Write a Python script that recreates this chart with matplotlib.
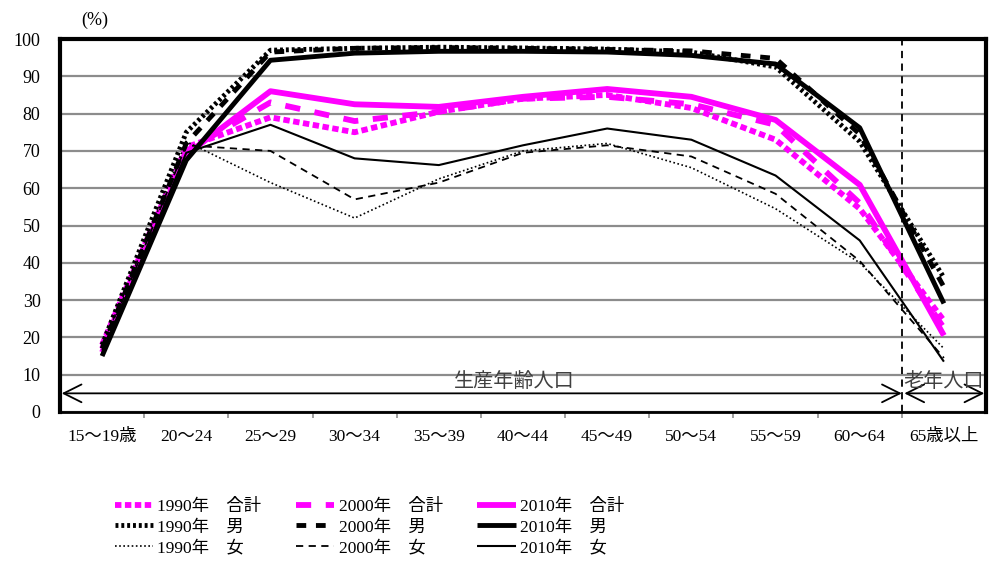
import matplotlib
matplotlib.use("Agg")
import matplotlib.pyplot as plt
from matplotlib.ticker import FixedLocator

plt.rcParams['font.family'] = ['Liberation Serif', 'Noto Sans CJK JP', 'DejaVu Sans']

categories = ["15〜19歳", "20〜24", "25〜29", "30〜34", "35〜39", "40〜44",
              "45〜49", "50〜54", "55〜59", "60〜64", "65歳以上"]

total_1990 = [18, 71, 79, 75, 80.5, 84, 85, 81.5, 73, 54.5, 24.5]
total_2000 = [17, 70, 83, 78, 80.5, 84, 84.5, 82.5, 77, 56, 22.5]
total_2010 = [16, 69, 86, 82.5, 81.8, 84.5, 86.6, 84.5, 78.3, 60.9, 20.5]
male_1990 = [18, 75, 97, 97.5, 97.8, 97.6, 97.3, 96.5, 92.5, 72.5, 36]
male_2000 = [17, 72, 96.5, 97.5, 97.7, 97.5, 97.2, 96.8, 94.8, 74.5, 33.5]
male_2010 = [15, 67.5, 94.3, 96.2, 96.7, 96.7, 96.5, 95.6, 93.3, 76.2, 29.1]
female_1990 = [17.5, 72.5, 61.5, 52, 62.5, 70, 72, 65.5, 54.5, 40, 17]
female_2000 = [16.5, 71.5, 70, 57, 61.5, 69.5, 71.5, 68.5, 58.5, 40.5, 14.5]
female_2010 = [15.5, 69.5, 77, 68, 66.2, 71.5, 76, 73, 63.4, 46, 13.5]

labels = ["1990年　合計", "2000年　合計", "2010年　合計",
          "1990年　男", "2000年　男", "2010年　男",
          "1990年　女", "2000年　女", "2010年　女"]

fig = plt.figure(figsize=(9.89, 5.65), dpi=100)
ax = fig.add_axes([60/989, 1-412/565, 926/989, 373/565])

x = list(range(len(categories)))
MAG = "#FF00FF"

series = [
    (total_1990, dict(color=MAG, lw=4.2, ls=(0, (1.1, 0.6)))),
    (total_2000, dict(color=MAG, lw=4.2, ls=(0, (2.6, 2.5)))),
    (total_2010, dict(color=MAG, lw=4.2, ls='-')),
    (male_1990, dict(color='black', lw=3.5, ls=(0, (0.6, 0.6)))),
    (male_2000, dict(color='black', lw=3.5, ls=(0, (2.0, 2.0)))),
    (male_2010, dict(color='black', lw=3.5, ls='-')),
    (female_1990, dict(color='black', lw=1.2, ls=(0, (1, 1.5)))),
    (female_2000, dict(color='black', lw=1.3, ls=(0, (4, 3)))),
    (female_2010, dict(color='black', lw=1.5, ls='-')),
]
handles = []
for (vals, st), lab in zip(series, labels):
    h, = ax.plot(x, vals, solid_capstyle='butt', dash_capstyle='butt',
                 label=lab, **st)
    handles.append(h)

ax.set_xlim(-0.5, 10.5)
ax.set_ylim(0, 100)
ax.set_yticks(range(0, 101, 10))
ax.yaxis.grid(True, color='#8c8c8c', lw=1.6)
ax.set_axisbelow(True)
ax.tick_params(axis='y', length=0, labelsize=13, pad=14)
ax.set_xticks(x)
ax.set_xticklabels(categories, fontsize=12.5)
ax.tick_params(axis='x', which='major', length=0, pad=12)
ax.xaxis.set_minor_locator(FixedLocator([i + 0.5 for i in range(10)]))
ax.tick_params(axis='x', which='minor', length=4, color='#8c8c8c', width=1.2)

for s in ['top', 'right', 'left']:
    ax.spines[s].set_linewidth(3)
ax.spines['bottom'].set_linewidth(2)

ax.axvline(9.5, color='black', lw=1.3, ls=(0, (4, 3)))

ax.annotate("", xy=(-0.48, 5), xytext=(9.5, 5),
            arrowprops=dict(arrowstyle='<->', lw=1.3, color='black', mutation_scale=32,
                            shrinkA=0, shrinkB=0))
ax.annotate("", xy=(9.53, 5), xytext=(10.48, 5),
            arrowprops=dict(arrowstyle='<->', lw=1.3, color='black', mutation_scale=32,
                            shrinkA=0, shrinkB=0))
ax.text(4.9, 7.8, "生産年齢人口", ha='center', va='center', fontsize=14.5, color='#404040')
ax.text(10.0, 8.0, "老年人口", ha='center', va='center', fontsize=14.5, color='#404040')

fig.text(95/989, 1-20/565, "(%)", ha='center', va='center', fontsize=13)

order = [0, 3, 6, 1, 4, 7, 2, 5, 8]
fig.legend([handles[i] for i in order], [labels[i] for i in order],
           ncol=3, loc='upper left', bbox_to_anchor=(106/989, 1-490/565),
           frameon=False, fontsize=12.5, handlelength=2.2, handletextpad=0.25,
           columnspacing=2.0, labelspacing=0.26, borderpad=0)

fig.savefig("out.png", dpi=100)
